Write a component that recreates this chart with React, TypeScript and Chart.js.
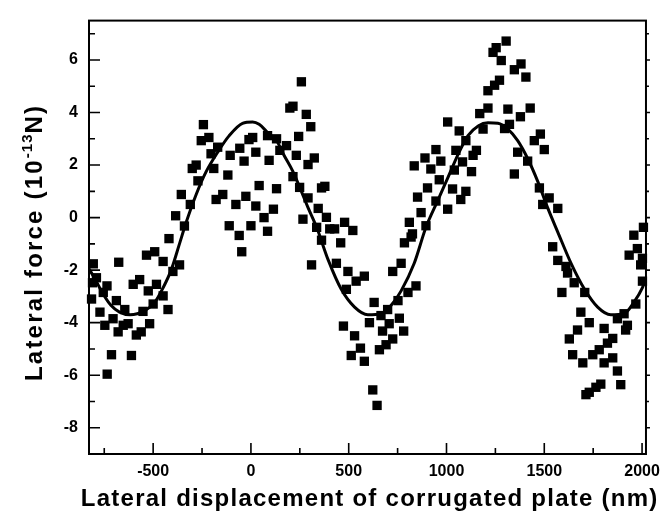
import { useEffect, useRef } from "react";
import { Chart, registerables } from "chart.js";

Chart.register(...registerables);

// Measured points (nm, 10^-13 N)
const scatterX = [
  -806, -676, -810, -340, -419, -534, -492, -449, -365, -399, -790, -736, -602, -569, -483, -525, -815, -755, -688, -449,
  -500, -424, -772, -645, -552, -705, -747, -653, -628, -679, -586, -561, -518, -713, -611, -735,
  -243, -254, -215, -170, -204, -106, -57, -10, 9, 25, -35, 85, 93, -190, -300, -280, -271, -118, 42, -356, -310, -178,
  -144, -77, -26, 25, -385, -111, 0, 67, 85, -60, -47,
  258, 199, 215, 283, 306, 244, 131, 182, 148, 232, 324, 292, 215, 131, 249, 361, 378, 292, 115, 344, 266, 386, 336,
  403, 428, 479, 521,
  1006, 1065, 1099, 946, 1048, 890, 971, 835, 920, 1082, 1040, 963, 903, 1031, 1099, 852, 946, 1073, 870, 1006, 810, 895, 826,
  1305, 1254, 1238, 1280, 1381, 1347, 1406, 1271, 1246, 1212, 1212, 1170, 1314, 1428, 1378, 1322, 1187, 1297, 1153, 1136,
  1128, 1480, 1449, 1500, 1364, 1415, 1347, 1475, 1525, 1492, 1569, 2007, 1958,
  361, 459, 310, 437, 496, 538, 580, 488, 630, 473, 530, 606, 673, 707, 759, 781, 725, 691, 657, 560, 513, 580, 623, 645,
  819, 785, 768, 725, 844, 803, 752, 699, 665,
  1976, 1934, 2002, 1993, 2002, 1968, 1543, 1569, 1611, 1619, 1653, 1590, 1707, 1687, 1730, 1670, 1628, 1806, 1908, 1874,
  1925, 1916, 1850, 1823, 1781, 1748, 1645, 1697, 1806, 1850, 1874, 1891, 1789, 1764, 1730, 1713,
];
const scatterY = [
  -1.76, -1.7, -2.48, -0.32, -0.8, -1.43, -1.3, -1.67, -1.8, -2.05, -2.29, -2.6, -2.54, -2.36, -2.54, -2.79, -3.1, -2.85, -3.16, -2.98,
  -3.29, -3.5, -3.6, -3.5, -3.57, -3.85, -4.1, -4.1, -4.04, -4.35, -4.47, -4.35, -4.04, -5.22, -5.25, -5.96,
  3.54, 2.93, 3.05, 2.68, 2.43, 2.37, 2.64, 2.97, 3.05, 2.49, 2.15, 3.12, 2.18, 1.87, 1.87, 2.0, 1.4, 1.62, 1.22, 0.88, 0.5, 0.69,
  0.88, 0.5, 0.81, 0.44, 0.07, -0.31, -0.31, 0.0, -0.52, -0.68, -1.3,
  5.17, 4.17, 4.24, 3.93, 3.46, 3.09, 3.0, 2.74, 2.56, 2.37, 2.27, 2.02, 1.56, 1.1, 1.15, 1.13, 1.19, 0.75, 0.32, 0.35, -0.06, 0.01, -0.37,
  -0.43, -0.43, -0.18, -0.49,
  3.64, 3.3, 2.93, 2.59, 2.56, 2.27, 2.15, 1.97, 1.85, 2.12, 1.81, 1.44, 1.13, 1.09, 1.0, 0.78, 0.63, 0.69, 0.19, 0.32, -0.18, -0.31, -0.62,
  6.72, 6.47, 6.29, 5.98, 5.85, 5.63, 5.35, 5.23, 5.04, 4.83, 4.17, 3.96, 4.13, 4.17, 3.84, 3.55, 3.37, 3.39, 2.56, 2.37,
  1.75, 3.18, 2.93, 2.59, 2.49, 2.15, 1.66, 1.13, 0.75, 0.5, 0.35, -0.37, -0.67,
  -0.86, -0.96, -1.8, -1.74, -2.05, -2.42, -2.23, -2.73, -3.23, -4.13, -4.5, -4.0, -4.32, -4.04, -3.83, -4.32, -4.62, -4.84, -5.03, -4.97, -5.25, -5.47, -6.56, -7.15,
  -0.74, -0.96, -1.74, -2.05, -2.6, -2.85, -3.16, -3.5, -3.73,
  -1.18, -1.43, -1.55, -1.8, -2.42, -3.29, -1.11, -1.63, -1.86, -2.11, -2.48, -2.85, -2.85, -3.6, -4.0, -4.28, -4.62, -4.22, -3.66, -3.85,
  -4.1, -4.28, -4.6, -4.78, -5.03, -5.22, -5.22, -5.53, -5.53, -5.34, -5.84, -6.36, -6.34, -6.46, -6.65, -6.74,
];

// Fitted curve
const fitX = [
  -828, -800, -755, -716, -672, -618, -543, -492, -449, -407, -365, -331, -280, -229, -170, -111, -43, 9, 42, 85, 136, 165,
  215, 258, 292, 336, 395, 462, 530, 598, 665, 716, 768, 835, 895, 954, 1006, 1057, 1110, 1162, 1212, 1263, 1314, 1364,
  1415, 1467, 1517, 1569, 1637, 1706, 1773, 1840, 1908, 1958, 2002, 2020,
];
const fitY = [
  -1.95, -2.3, -2.92, -3.34, -3.6, -3.7, -3.54, -3.23, -2.67, -1.98, -0.99, -0.18, 0.88, 1.75, 2.49, 3.12, 3.59, 3.64, 3.55, 3.24, 2.87, 2.43,
  1.75, 1.0, 0.38, -0.37, -1.61, -2.73, -3.41, -3.7, -3.66, -3.35, -2.79, -1.74, -0.37, 0.63, 1.5, 2.37, 3.12, 3.49, 3.61, 3.59, 3.37, 2.93,
  2.25, 1.37, 0.38, -0.55, -1.74, -2.73, -3.41, -3.7, -3.66, -3.23, -2.67, -2.3,
];

const xTickValues = [-500, 0, 500, 1000, 1500, 2000];
const xMinorTicks = [-750, -250, 250, 750, 1250, 1750];
const yTickValues = [-8, -6, -4, -2, 0, 2, 4, 6];
const yMinorTicks = [-7, -5, -3, -1, 1, 3, 5, 7];
const xRange = [-828, 2020];
const yRange = [-9, 7.5];

const xTitle = "Lateral displacement of corrugated plate (nm)";
const yTitleMain = "Lateral force (10";
const yTitleSup = "-13";
const yTitleEnd = "N)";

const FONT = "'Liberation Sans', Arial, sans-serif";

function drawSpaced(ctx: CanvasRenderingContext2D, text: string, x: number, y: number, spacing: number) {
  let cx = x;
  for (const ch of text) {
    ctx.fillText(ch, cx, y);
    cx += ctx.measureText(ch).width + spacing;
  }
  return cx;
}
function spacedWidth(ctx: CanvasRenderingContext2D, text: string, spacing: number) {
  let w = 0;
  for (const ch of text) w += ctx.measureText(ch).width + spacing;
  return w;
}

const framePlugin = {
  id: "framePlugin",
  afterDraw(chart: any) {
    const { ctx, chartArea: ca, scales } = chart;
    const xs = scales.x;
    const ys = scales.y;
    ctx.save();
    ctx.strokeStyle = "#000";
    ctx.lineWidth = 2;
    ctx.strokeRect(ca.left, ca.top, ca.right - ca.left, ca.bottom - ca.top);
    ctx.lineWidth = 1.6;
    ctx.beginPath();
    for (const v of xTickValues) {
      const p = xs.getPixelForValue(v);
      ctx.moveTo(p, ca.bottom);
      ctx.lineTo(p, ca.bottom - 11);
    }
    for (const v of xMinorTicks) {
      const p = xs.getPixelForValue(v);
      ctx.moveTo(p, ca.bottom);
      ctx.lineTo(p, ca.bottom - 6);
    }
    for (const v of yTickValues) {
      const p = ys.getPixelForValue(v);
      ctx.moveTo(ca.left, p);
      ctx.lineTo(ca.left + 11, p);
      ctx.moveTo(ca.right, p);
      ctx.lineTo(ca.right + 4, p);
    }
    for (const v of yMinorTicks) {
      const p = ys.getPixelForValue(v);
      ctx.moveTo(ca.left, p);
      ctx.lineTo(ca.left + 6, p);
      ctx.moveTo(ca.right, p);
      ctx.lineTo(ca.right + 3, p);
    }
    ctx.stroke();

    // x title
    ctx.fillStyle = "#000";
    ctx.textBaseline = "alphabetic";
    ctx.textAlign = "left";
    ctx.font = `bold 24px ${FONT}`;
    const xs1 = 1.25;
    const wx = spacedWidth(ctx, xTitle, xs1) - xs1;
    drawSpaced(ctx, xTitle, 369 - wx / 2, 506, xs1);

    // y title (rotated)
    ctx.translate(42, 243.5);
    ctx.rotate(-Math.PI / 2);
    const ysp = 2.2;
    ctx.font = `bold 24px ${FONT}`;
    const w1 = spacedWidth(ctx, yTitleMain, ysp);
    const w3 = spacedWidth(ctx, yTitleEnd, ysp) - ysp;
    ctx.font = `bold 15px ${FONT}`;
    const w2 = spacedWidth(ctx, yTitleSup, 1);
    const total = w1 + w2 + w3;
    let cx = -total / 2;
    ctx.font = `bold 24px ${FONT}`;
    cx = drawSpaced(ctx, yTitleMain, cx, 0, ysp);
    ctx.font = `bold 15px ${FONT}`;
    cx = drawSpaced(ctx, yTitleSup, cx, -10, 1);
    ctx.font = `bold 24px ${FONT}`;
    drawSpaced(ctx, yTitleEnd, cx, 0, ysp);
    ctx.restore();
  },
};

export default function App() {
  const ref = useRef<HTMLCanvasElement | null>(null);
  useEffect(() => {
    if (!ref.current) return;
    const chart = new Chart(ref.current, {
      type: "scatter",
      data: {
        datasets: [
          {
            label: "data",
            data: scatterX.map((x, i) => ({ x, y: scatterY[i] })),
            pointStyle: "rect",
            pointRadius: 6.6,
            pointHoverRadius: 6.6,
            backgroundColor: "#000",
            borderColor: "#000",
            borderWidth: 0,
            showLine: false,
            clip: false as any,
          },
          {
            label: "fit",
            data: fitX.map((x, i) => ({ x, y: fitY[i] })),
            showLine: true,
            pointRadius: 0,
            borderColor: "#000",
            borderWidth: 3,
            cubicInterpolationMode: "monotone",
            fill: false,
          },
        ],
      },
      options: {
        animation: false,
        responsive: true,
        maintainAspectRatio: false,
        events: [],
        layout: { padding: { left: 0, top: 11, right: 20, bottom: 0 } },
        plugins: { legend: { display: false }, tooltip: { enabled: false } },
        scales: {
          x: {
            type: "linear",
            min: xRange[0],
            max: xRange[1],
            afterBuildTicks: (s: any) => {
              s.ticks = xTickValues.map((v) => ({ value: v }));
            },
            afterFit: (s: any) => {
              s.height = 75;
            },
            grid: { display: false, drawTicks: false },
            border: { display: false },
            ticks: {
              padding: 8,
              color: "#000",
              font: { family: FONT, size: 16, weight: "bold" },
              callback: (v: any) => String(v),
              maxRotation: 0,
              autoSkip: false,
            },
          },
          y: {
            type: "linear",
            min: yRange[0],
            max: yRange[1],
            afterBuildTicks: (s: any) => {
              s.ticks = yTickValues.map((v) => ({ value: v }));
            },
            afterFit: (s: any) => {
              s.width = 89;
            },
            grid: { display: false, drawTicks: false },
            border: { display: false },
            ticks: {
              padding: 11,
              color: "#000",
              font: { family: FONT, size: 16, weight: "bold" },
              callback: (v: any) => String(v),
              autoSkip: false,
            },
          },
        },
      },
      plugins: [framePlugin],
    });
    return () => chart.destroy();
  }, []);
  return (
    <div style={{ position: "absolute", left: 0, top: 0, width: 668, height: 529, background: "#fff" }}>
      <canvas ref={ref} />
    </div>
  );
}
